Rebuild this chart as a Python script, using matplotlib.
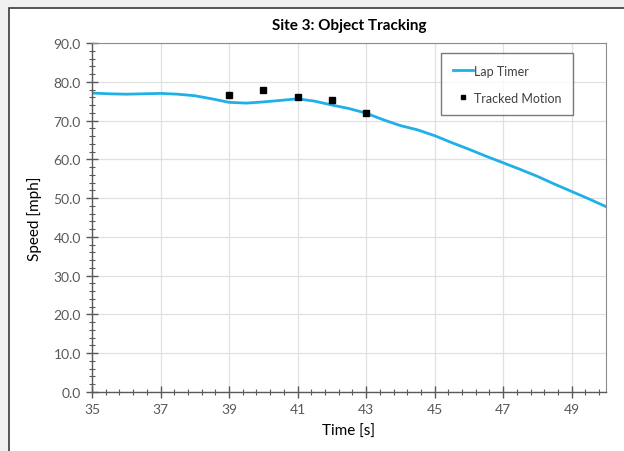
import matplotlib.pyplot as plt
from matplotlib.patches import Rectangle
from matplotlib.ticker import MultipleLocator, FormatStrFormatter

# Lap timer speed trace (0.5 s steps)
lap_time = [35.0, 35.5, 36.0, 36.5, 37.0, 37.5, 38.0, 38.5, 39.0, 39.5,
            40.0, 40.5, 41.0, 41.5, 42.0, 42.5, 43.0, 43.5, 44.0, 44.5,
            45.0, 45.5, 46.0, 46.5, 47.0, 47.5, 48.0, 48.5, 49.0, 49.5, 50.0]
lap_speed = [77.1, 76.9, 76.8, 76.9, 77.0, 76.8, 76.4, 75.6, 74.7, 74.5,
             74.8, 75.2, 75.6, 75.0, 74.0, 73.1, 71.9, 70.2, 68.7, 67.6,
             66.1, 64.3, 62.6, 60.8, 59.1, 57.4, 55.6, 53.6, 51.7, 49.8, 47.8]

# Tracked motion samples
track_time = [39, 40, 41, 42, 43]
track_speed = [76.7, 77.8, 76.0, 75.4, 71.9]

plt.rcParams['font.family'] = ['Lato', 'DejaVu Sans']

fig = plt.figure(figsize=(6.24, 4.52), dpi=100)
fig.patch.set_facecolor('#f0f0f0')
# white chart area with dark border
fig.patches.append(Rectangle((9 / 624, -0.01), 1.0, (452 - 9) / 452 + 0.01,
                             transform=fig.transFigure, facecolor='white',
                             edgecolor='#3a3a3a', linewidth=1.2, zorder=-1))

ax = fig.add_axes([92 / 624, 59 / 452, 514 / 624, 349 / 452])
ax.set_zorder(2)

ax.plot(lap_time, lap_speed, color='#1fb0e8', linewidth=2, label='Lap Timer')
ax.plot(track_time, track_speed, linestyle='none', marker='s', markersize=3.8,
        color='black', label='Tracked Motion', zorder=5)

ax.set_xlim(35, 50)
ax.set_ylim(0, 90)
ax.xaxis.set_major_locator(MultipleLocator(2, offset=1))
ax.xaxis.set_minor_locator(MultipleLocator(0.4, offset=0.2))
ax.yaxis.set_major_locator(MultipleLocator(10))
ax.yaxis.set_minor_locator(MultipleLocator(2))
ax.yaxis.set_major_formatter(FormatStrFormatter('%.1f'))
ax.xaxis.set_major_formatter(FormatStrFormatter('%d'))

ax.grid(which='major', color='#e0e0e0', linewidth=0.9)
ax.set_axisbelow(True)

for side in ['top', 'right']:
    ax.spines[side].set_color('#8c8c8c')
for side in ['left', 'bottom']:
    ax.spines[side].set_color('#595959')
    ax.spines[side].set_linewidth(1.0)

ax.tick_params(which='major', direction='inout', length=8, width=1,
               color='#595959', labelcolor='#595959', labelsize=10, pad=4)
ax.tick_params(which='minor', direction='inout', length=4, width=0.8,
               color='#595959')
ax.tick_params(axis='x', which='both', top=False)
ax.tick_params(axis='y', which='both', right=False)

ax.set_title('Site 3: Object Tracking', fontsize=11, fontweight='bold',
             color='black', pad=10)
ax.set_xlabel('Time [s]', fontsize=11, color='black', labelpad=6)
ax.set_ylabel('Speed [mph]', fontsize=11, color='black', labelpad=8)

leg = ax.legend(loc='upper right', bbox_to_anchor=(0.935, 0.97),
                fontsize=9, frameon=True, fancybox=False, handlelength=1.6,
                handletextpad=0.1, borderpad=0.9, labelspacing=1.2,
                borderaxespad=0, markerscale=0.8)
leg.get_frame().set_edgecolor('#595959')
leg.get_frame().set_linewidth(1)
for t in leg.get_texts():
    t.set_color('#404040')

fig.savefig('out.png', dpi=100, facecolor=fig.get_facecolor())
